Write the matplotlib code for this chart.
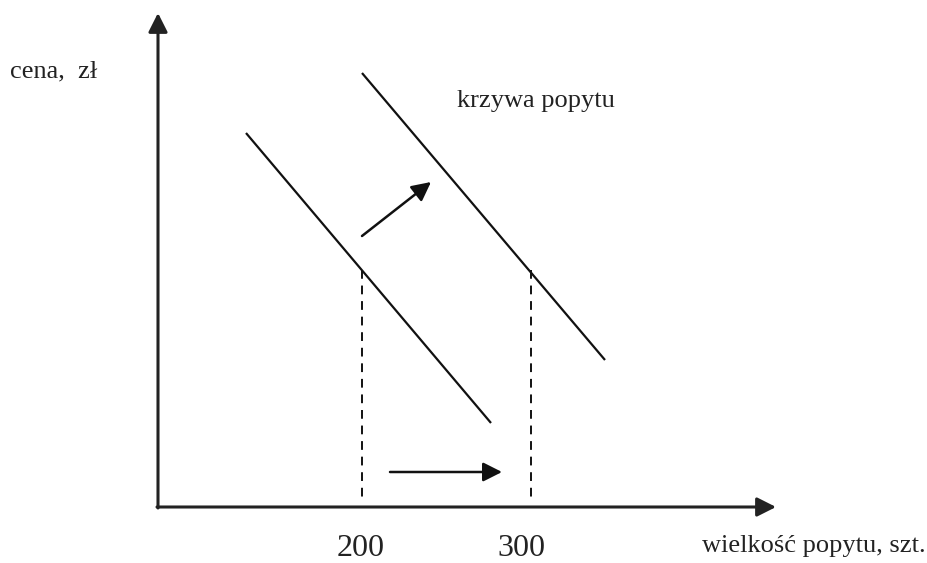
import matplotlib
matplotlib.use("Agg")
import matplotlib.pyplot as plt

# Geometry (x to the right, y downward, picture units)
origin = (158, 507)
y_axis_top = 13
x_axis_right = 776

demand1_x = [246, 491]
demand1_y = [133, 423]
demand2_x = [362, 605]
demand2_y = [73, 360]

q_levels = [200, 300]
q_pos = [362, 531]
q_dash_top = [270, 270]
dash_bottom = 500
q_label_x = [361, 521]

shift_arrow = ((362, 236), (431, 182))
q_arrow = ((390, 472), (502, 472))

plt.rcParams['font.family'] = ['Liberation Serif', 'DejaVu Serif']

fig = plt.figure(figsize=(9.28, 5.63), dpi=100)
ax = fig.add_axes([0, 0, 1, 1])
ax.set_xlim(0, 928)
ax.set_ylim(563, 0)
ax.axis('off')

head = '-|>,head_length=1.15,head_width=0.58'

# axes with arrows
ax.annotate('', xy=(origin[0], y_axis_top), xytext=(origin[0], origin[1] + 1),
            arrowprops=dict(arrowstyle=head, mutation_scale=10,
                            color='#222222', lw=2.2, shrinkA=0, shrinkB=0))
ax.annotate('', xy=(x_axis_right, origin[1]), xytext=(origin[0] - 1, origin[1]),
            arrowprops=dict(arrowstyle=head, mutation_scale=10,
                            color='#222222', lw=2.2, shrinkA=0, shrinkB=0))

# demand curves
ax.plot(demand1_x, demand1_y, color='#111111', lw=1.6, solid_capstyle='butt')
ax.plot(demand2_x, demand2_y, color='#111111', lw=1.6, solid_capstyle='butt')

# dashed verticals
for xp, yt in zip(q_pos, q_dash_top):
    ax.plot([xp, xp], [yt, dash_bottom], color='#111111', lw=1.4,
            linestyle=(0, (4.5, 3.5)))

# arrows
for (s, e) in (shift_arrow, q_arrow):
    ax.annotate('', xy=e, xytext=s,
                arrowprops=dict(arrowstyle=head, mutation_scale=10,
                                color='#111111', lw=1.8, shrinkA=0, shrinkB=0))

# texts
ax.text(10, 77, 'cena,  zł', fontsize=19, ha='left', va='baseline', color='#222222')
ax.text(457, 107, 'krzywa popytu', fontsize=19, ha='left', va='baseline', color='#222222')
for lbl, xl in zip(q_levels, q_label_x):
    ax.text(xl, 556, str(lbl), fontsize=23, ha='center', va='baseline', color='#222222')
ax.text(702, 552, 'wielkość popytu, szt.', fontsize=19, ha='left', va='baseline', color='#222222')

fig.savefig('out.png', dpi=100)
